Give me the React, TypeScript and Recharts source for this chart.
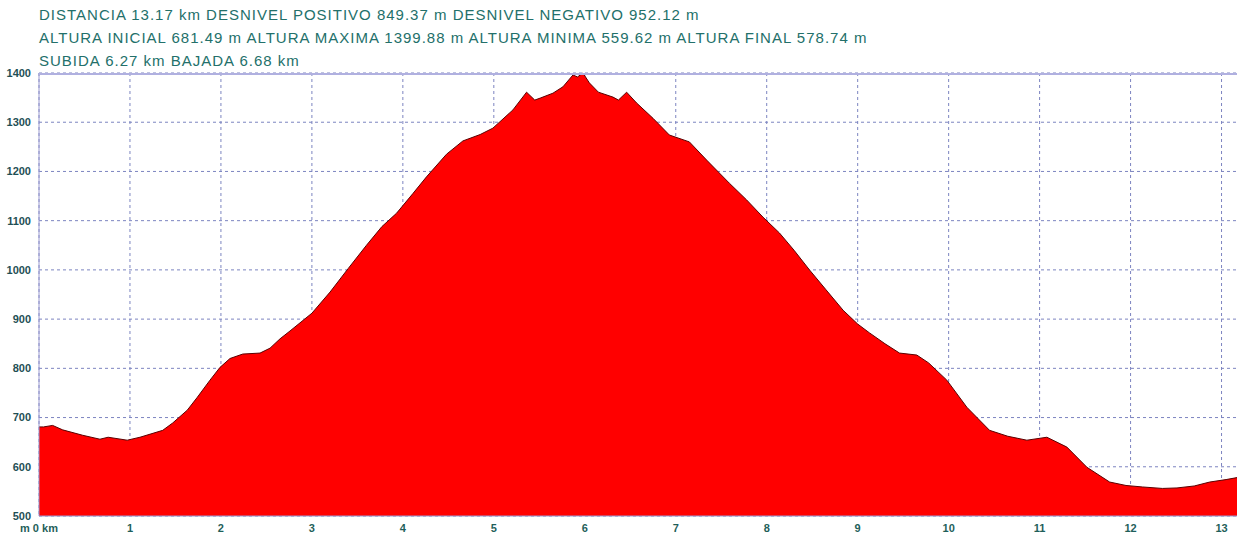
import { Area, AreaChart, CartesianGrid, XAxis, YAxis } from 'recharts'

// distance (km) and elevation (m)
const distances = [
    0, 0.05, 0.15, 0.26, 0.48, 0.67, 0.76, 0.97, 1.11, 1.36, 1.47, 1.63, 1.74,
    1.88, 1.99, 2.1, 2.24, 2.43, 2.54, 2.65, 2.76, 3.0, 3.2, 3.4, 3.6, 3.77, 3.93,
    4.11, 4.26, 4.48, 4.66, 4.85, 4.99, 5.21, 5.36, 5.45, 5.51, 5.65, 5.76, 5.87,
    5.92, 5.98, 6.05, 6.15, 6.31, 6.37, 6.46, 6.57, 6.75, 6.93, 7.15, 7.34, 7.59,
    7.78, 7.96, 8.14, 8.3, 8.47, 8.65, 8.84, 9.0, 9.13, 9.3, 9.46, 9.65, 9.78,
    9.98, 10.2, 10.45, 10.65, 10.86, 11.08, 11.3, 11.52, 11.77, 11.95, 12.13,
    12.35, 12.51, 12.7, 12.87, 13.05, 13.17,
]
const elevations = [
    681, 681, 684, 675, 664, 656, 660, 654, 660, 674, 689, 715, 741, 776, 802,
    820, 829, 831, 841, 860, 876, 912, 955, 1003, 1050, 1088, 1115, 1155, 1189,
    1235, 1262, 1275, 1288, 1325, 1361, 1345, 1349, 1359, 1372, 1396, 1392, 1400,
    1380, 1361, 1351, 1345, 1361, 1339, 1308, 1274, 1260, 1223, 1176, 1142, 1107,
    1075, 1040, 1000, 960, 918, 890, 872, 850, 831, 827, 811, 776, 721, 674, 662,
    654, 660, 640, 599, 569, 562, 559, 556, 557, 561, 569, 574, 578,
]

const kmTicks = [0, 1, 2, 3, 4, 5, 6, 7, 8, 9, 10, 11, 12, 13]
const elevationTicks = [500, 600, 700, 800, 900, 1000, 1100, 1200, 1300, 1400]

const headerLines = [
    'DISTANCIA 13.17 km DESNIVEL POSITIVO 849.37 m DESNIVEL NEGATIVO 952.12 m',
    'ALTURA INICIAL 681.49 m ALTURA MAXIMA 1399.88 m ALTURA MINIMA 559.62 m ALTURA FINAL 578.74 m',
    'SUBIDA 6.27 km BAJADA 6.68 km',
]

const data = distances.map((d, i) => ({ km: d, alt: elevations[i] }))

const textColor = '#23706a'
const gridColor = '#7c84c0'

const App = () => {
    return (
        <div
            style={{
                position: 'absolute',
                left: 0,
                top: 0,
                width: 1239,
                height: 537,
                background: '#fff',
                fontFamily: '"Liberation Sans", Arial, sans-serif',
            }}
        >
            <AreaChart
                width={1239}
                height={537}
                data={data}
                margin={{ top: 73, right: 2, left: 0, bottom: 0 }}
            >
                <CartesianGrid
                    stroke={gridColor}
                    strokeDasharray="3 3"
                    horizontalValues={elevationTicks}
                    verticalValues={kmTicks}
                />
                <XAxis
                    dataKey="km"
                    type="number"
                    domain={[0, 13.17]}
                    ticks={kmTicks}
                    height={21}
                    stroke="#9a9ad0"
                    tickLine={false}
                    tick={{ fontSize: 11, fill: '#1f5f5a', fontWeight: 700 }}
                    tickFormatter={(v) => (v === 0 ? 'm 0 km' : String(v))}
                />
                <YAxis
                    type="number"
                    domain={[500, 1400]}
                    ticks={elevationTicks}
                    width={39}
                    stroke="#9a9ad0"
                    tickLine={false}
                    tickMargin={2}
                    tick={{ fontSize: 11, fill: '#1f4f55', fontWeight: 700 }}
                />
                <Area
                    type="linear"
                    dataKey="alt"
                    stroke="#5a0000"
                    strokeWidth={1}
                    fill="#ff0000"
                    fillOpacity={1}
                    isAnimationActive={false}
                />
            </AreaChart>
            <div style={{ position: 'absolute', left: 39, top: 3 }}>
                {headerLines.map((line) => (
                    <div
                        key={line}
                        style={{
                            fontSize: 15,
                            lineHeight: '23px',
                            color: textColor,
                            whiteSpace: 'nowrap',
                            letterSpacing: 1.0,
                        }}
                    >
                        {line}
                    </div>
                ))}
            </div>
            <div
                style={{
                    position: 'absolute',
                    left: 39,
                    top: 73,
                    width: 1198,
                    borderTop: '2px solid #b0b0e0',
                }}
            />
        </div>
    )
}

export default App
